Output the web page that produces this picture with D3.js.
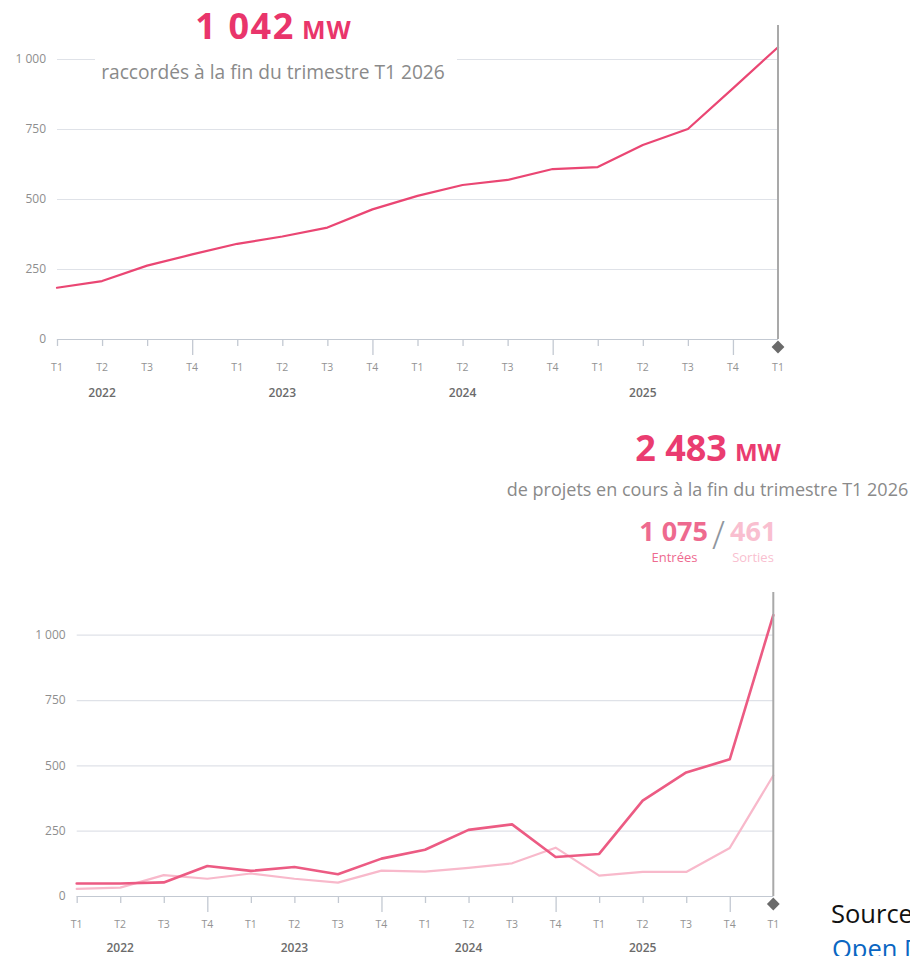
<!DOCTYPE html>
<html><head><meta charset="utf-8">
<script src="https://cdn.jsdelivr.net/npm/d3@7"></script>
<style>
html,body{margin:0;padding:0;background:#fff;overflow:hidden}
svg{display:block;font-family:"Open Sans",sans-serif}
</style></head>
<body>
<svg id="c" width="910" height="956"></svg>
<script>
// ---- data ----
const quarters = ["T1","T2","T3","T4","T1","T2","T3","T4","T1","T2","T3","T4","T1","T2","T3","T4","T1"];
const years = ["2022","2023","2024","2025"];
const yearIndex = [1,5,9,13]; // quarter index under which each year label sits
const yTicks = [0,250,500,750,1000];
const raccordes = [183,207,262,302,340,366,398,463,511,550,568,607,614,693,750,895,1042];
const entrees = [48,48,52,115,96,111,83,143,177,253,274,149,161,365,473,523,1075];
const sorties = [27,32,80,66,86,66,51,97,93,108,125,185,78,92,92,184,461];

const fmt = d3.formatLocale({decimal:",",thousands:" ",grouping:[3],currency:["","€"]}).format(",d");
const svg = d3.select("#c");

function drawChart(o){
  const g = svg.append("g");
  const x = d3.scalePoint().domain(d3.range(quarters.length)).range([o.left,o.right]);
  const y = d3.scaleLinear().domain([0,1000]).range([o.bottom,o.top]);
  // grid
  g.selectAll(".grid").data(yTicks).join("line")
    .attr("x1",o.left).attr("x2",o.right)
    .attr("y1",d=>y(d)+0.5).attr("y2",d=>y(d)+0.5)
    .attr("stroke",d=>d===0?"#c3c9d2":"#dfe2e8").attr("stroke-width",1.2);
  g.selectAll(".yl").data(yTicks).join("text")
    .attr("x",o.left-11).attr("y",d=>y(d)).attr("dy","0.35em")
    .attr("text-anchor","end").attr("font-size",12).attr("fill","#8e8e8e")
    .text(d=>fmt(d));
  // x ticks
  g.selectAll(".xt").data(d3.range(quarters.length-1)).join("line")
    .attr("x1",d=>x(d)+0.5).attr("x2",d=>x(d)+0.5)
    .attr("y1",o.bottom).attr("y2",d=>o.bottom+(quarters[d]==="T4"?16:7))
    .attr("stroke","#c3c9d2").attr("stroke-width",1.3);
  g.selectAll(".xl").data(quarters).join("text")
    .attr("x",(d,i)=>x(i)).attr("y",o.bottom+32)
    .attr("text-anchor","middle").attr("font-size",10.5).attr("fill","#939393")
    .text(d=>d);
  g.selectAll(".yr").data(years).join("text")
    .attr("x",(d,i)=>x(yearIndex[i])).attr("y",o.bottom+o.yearOff)
    .attr("text-anchor","middle").attr("font-size",12).attr("font-weight",600).attr("fill","#6b6b6b")
    .text(d=>d);
  // lines
  o.series.forEach(s=>{
    g.append("path").datum(s.values)
      .attr("fill","none").attr("stroke",s.color).attr("stroke-width",s.width)
      .attr("stroke-linejoin","round").attr("stroke-linecap","round")
      .attr("d",d3.line().x((d,i)=>x(i)).y(d=>y(d)));
  });
  // right marker line
  const xr = x(quarters.length-1);
  g.append("line").attr("x1",xr).attr("x2",xr).attr("y1",o.vTop).attr("y2",o.bottom)
    .attr("stroke","#a9a9a9").attr("stroke-width",2);
  g.append("path").attr("d",d3.symbol(d3.symbolSquare,82)())
    .attr("transform",`translate(${xr},${o.bottom+8}) rotate(45)`).attr("fill","#6a6a6a");
  return g;
}

// ---- top chart ----
drawChart({left:57,right:778,top:59,bottom:339,vTop:25,yearOff:58,
  series:[{values:raccordes,color:"#ea4673",width:2.2}]});
// title box
svg.append("rect").attr("x",95).attr("y",0).attr("width",362).attr("height",92).attr("fill","#fff");
const t1 = svg.append("text").attr("x",273.5).attr("y",38.5).attr("text-anchor","middle")
  .attr("fill","#e9356b").attr("font-weight",700);
t1.append("tspan").attr("font-size",36).attr("letter-spacing",1.6).text("1 042");
t1.append("tspan").attr("font-size",25).attr("dx",7).attr("letter-spacing",1).text("MW");
svg.append("text").attr("x",273).attr("y",79).attr("text-anchor","middle")
  .attr("font-size",19.2).attr("fill","#8a8a8a").text("raccordés à la fin du trimestre T1 2026");

// ---- bottom chart ----
drawChart({left:76.7,right:773.3,top:634.7,bottom:896,vTop:592,yearOff:56,
  series:[{values:sorties,color:"#f8b9cb",width:2.2},{values:entrees,color:"#ec5b83",width:2.6}]});
const t2 = svg.append("text").attr("x",708).attr("y",460.5).attr("text-anchor","middle")
  .attr("fill","#ea3c70").attr("font-weight",700);
t2.append("tspan").attr("font-size",36).text("2 483");
t2.append("tspan").attr("font-size",24).attr("dx",8).text("MW");
svg.append("text").attr("x",707.5).attr("y",496).attr("text-anchor","middle")
  .attr("font-size",18).attr("fill","#8a8a8a").text("de projets en cours à la fin du trimestre T1 2026");
svg.append("text").attr("x",708).attr("y",541).attr("text-anchor","end")
  .attr("font-size",27).attr("font-weight",700).attr("fill","#ee6a8f").text("1 075");
svg.append("text").attr("x",718.5).attr("y",549).attr("text-anchor","middle")
  .attr("font-size",38).attr("font-weight",300).attr("fill","#8f969e").text("/");
svg.append("text").attr("x",730).attr("y",541).attr("text-anchor","start")
  .attr("font-size",27).attr("font-weight",700).attr("fill","#f9bfd0").text("461");
svg.append("text").attr("x",674.5).attr("y",561.5).attr("text-anchor","middle")
  .attr("font-size",13).attr("fill","#ee6a8f").text("Entrées");
svg.append("text").attr("x",753).attr("y",561.5).attr("text-anchor","middle")
  .attr("font-size",13).attr("fill","#f9bfd0").text("Sorties");

// ---- source (cut off at the page edge, as in the reference) ----
const src = svg.append("text").attr("font-size",25.5);
src.append("tspan").attr("x",831).attr("y",923).attr("fill","#111").text("Source : ");
src.append("tspan").attr("x",832).attr("y",958).attr("fill","#0a66c2").text("Open Data Réseaux Énergies");
</script>
</body></html>
